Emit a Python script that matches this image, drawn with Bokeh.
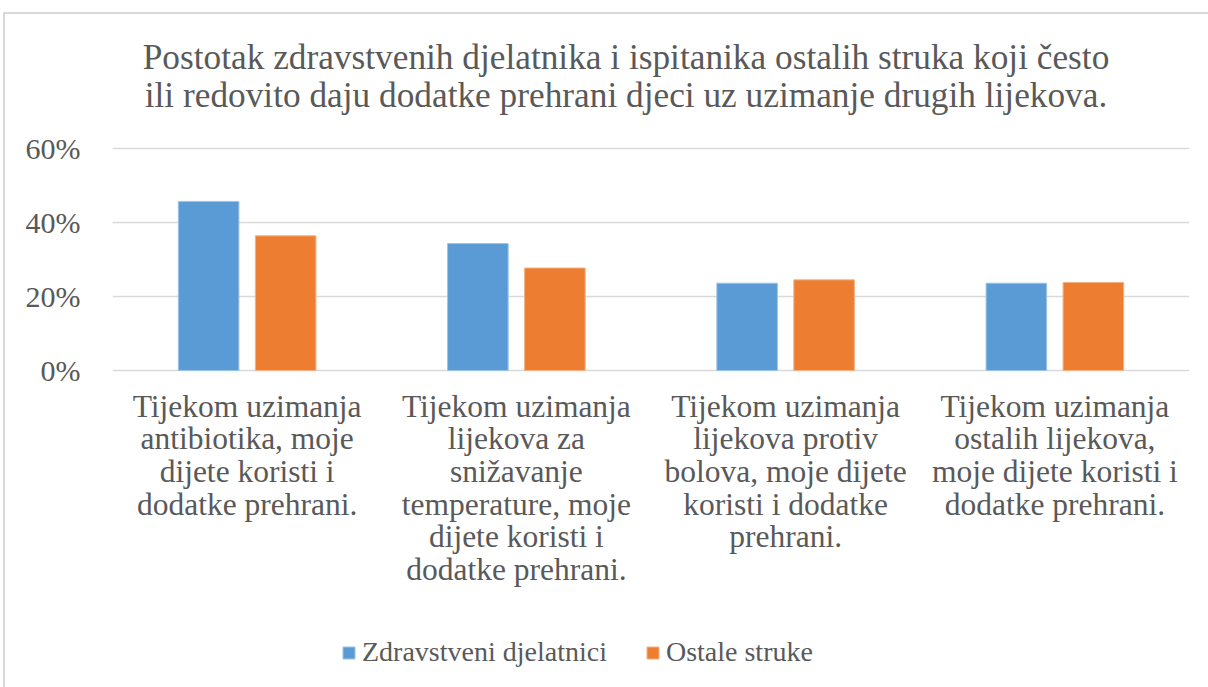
from bokeh.plotting import figure
from bokeh.models import (Range1d, NumeralTickFormatter, FixedTicker,
                          Legend, LegendItem, ColumnDataSource)
from bokeh.core.properties import value
from bokeh.embed import file_html
from bokeh.resources import INLINE

categories = [
    "Tijekom uzimanja\nantibiotika, moje\ndijete koristi i\ndodatke prehrani.",
    "Tijekom uzimanja\nlijekova za\nsnižavanje\ntemperature, moje\ndijete koristi i\ndodatke prehrani.",
    "Tijekom uzimanja\nlijekova protiv\nbolova, moje dijete\nkoristi i dodatke\nprehrani.",
    "Tijekom uzimanja\nostalih lijekova,\nmoje dijete koristi i\ndodatke prehrani.",
]
zdravstveni = [0.457, 0.343, 0.236, 0.236]
ostale = [0.364, 0.277, 0.245, 0.238]
series_names = ["Zdravstveni djelatnici", "Ostale struke"]
y_ticks = [0, 0.2, 0.4, 0.6]
title_lines = [
    "Postotak zdravstvenih djelatnika i ispitanika ostalih struka koji često",
    "ili redovito daju dodatke prehrani djeci uz uzimanje drugih lijekova.",
]

FONT = "Liberation Serif"
TXT = "#595959"
GRID = "#d9d9d9"
BLUE = "#5B9BD5"
ORANGE = "#ED7D31"

W, H = 1208, 687
LEFT, RIGHT = 112, 19
PX_TOP = 148      # canvas top -> 60% line
PX_ZERO = 370     # canvas top -> 0% line
YMAX_TICK = 0.6
ppu = (PX_ZERO - PX_TOP) / YMAX_TICK
y_top = YMAX_TICK + PX_TOP / ppu
y_bot = -(H - PX_ZERO) / ppu

n = len(categories)
centers = [i + 0.5 for i in range(n)]
OFF, BW = 0.143, 0.225

src = ColumnDataSource(dict(
    xz=[c - OFF for c in centers], xo=[c + OFF for c in centers],
    z=zdravstveni, o=ostale))

border_bg = (
    f"linear-gradient({GRID},{GRID}) 3px 12px / 2px calc(100% - 12px) no-repeat, "
    f"linear-gradient({GRID},{GRID}) 3px 12px / calc(100% - 3px) 2px no-repeat, "
    "#ffffff"
)

p = figure(width=W, height=H, x_range=Range1d(0, n), y_range=Range1d(y_bot, y_top),
           output_backend="svg", toolbar_location=None, x_axis_location=None,
           min_border_left=LEFT, min_border_right=RIGHT, min_border_top=0,
           min_border_bottom=0, styles={"background": border_bg})
p.outline_line_color = None
p.border_fill_color = None
p.background_fill_color = None

p.xgrid.grid_line_color = None
p.ygrid.ticker = FixedTicker(ticks=y_ticks)
p.ygrid.grid_line_color = GRID
p.ygrid.grid_line_width = 1.5

r1 = p.vbar(x="xz", top="z", width=BW, source=src, fill_color=BLUE,
            line_color="#9dc3e6", line_width=1)
r2 = p.vbar(x="xo", top="o", width=BW, source=src, fill_color=ORANGE,
            line_color="#f4b183", line_width=1)

p.yaxis.ticker = FixedTicker(ticks=y_ticks)
p.yaxis.formatter = NumeralTickFormatter(format="0%")
p.yaxis.axis_line_color = None
p.yaxis.major_tick_line_color = None
p.yaxis.minor_tick_line_color = None
p.yaxis.major_label_text_font = FONT
p.yaxis.major_label_text_font_size = "30px"
p.yaxis.major_label_text_color = TXT
p.yaxis.major_label_standoff = 26

# category labels (one glyph per line, hanging below the 0% line)
lx, ly, lt, loff = [], [], [], []
for c, cat in zip(centers, categories):
    for j, line in enumerate(cat.split("\n")):
        lx.append(c)
        ly.append(0)
        lt.append(line)
        loff.append(35.5 + 32.7 * j)
p.text(x=lx, y=ly, text=lt, y_offset=loff, text_align="center",
       text_baseline="alphabetic", text_font=value(FONT),
       text_font_size="31.5px", text_color=TXT)

# title
p.text(x=[n / 2, n / 2], y=[YMAX_TICK, YMAX_TICK], text=title_lines,
       x_offset=-25, y_offset=[-91, -53], text_align="center",
       text_baseline="alphabetic", text_font=value(FONT),
       text_font_size="35.3px", text_color=TXT)

legend = Legend(items=[LegendItem(label=series_names[0], renderers=[r1]),
                       LegendItem(label=series_names[1], renderers=[r2])],
                orientation="horizontal", location=(229, 19),
                label_text_font=FONT, label_text_font_size="28px",
                label_text_color=TXT, glyph_width=15, glyph_height=15,
                label_standoff=6, spacing=38, border_line_color=None,
                background_fill_alpha=0, margin=0, padding=0)
p.add_layout(legend, "center")

open("out.html", "w").write(file_html(p, INLINE))
